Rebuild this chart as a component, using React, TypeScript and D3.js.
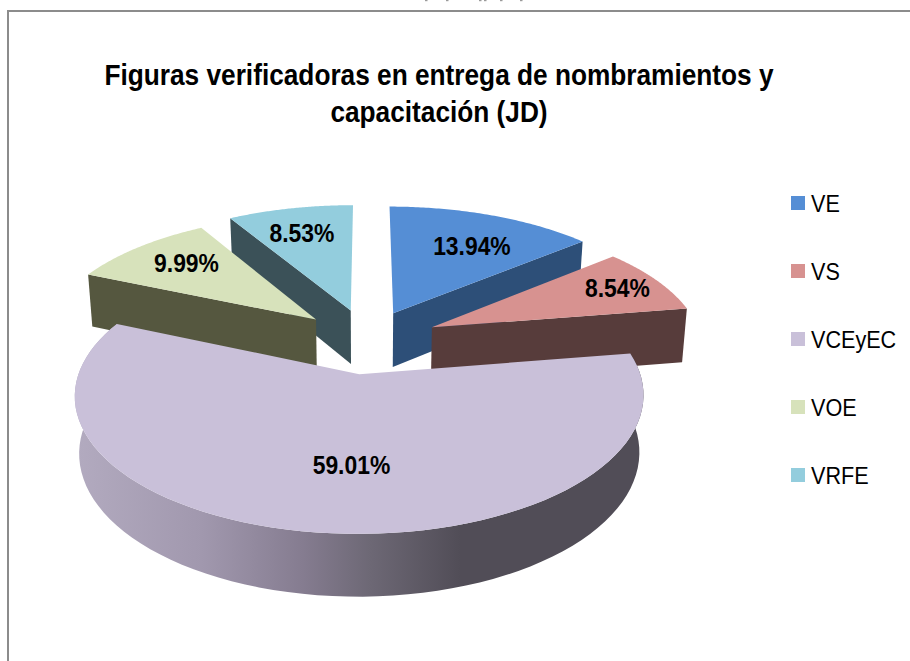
import React from "react";
import * as d3 from "d3";

const categories = ["VE", "VS", "VCEyEC", "VOE", "VRFE"];
const values = [13.94, 8.54, 59.01, 9.99, 8.53];
const titleLines = ["Figuras verificadoras en entrega de nombramientos y", "capacitación (JD)"];
const topColors = ["#558ed5", "#d79290", "#c9c0d9", "#d7e2bb", "#93cddd"];
const sideColors = ["#2d4f78", "#573c3b", "#000000", "#55573f", "#3b5158"];
const explode = [0.25, 0.26, 0.235, 0.255, 0.25];
const radiusScale = [1.05, 1.0, 1.004, 1.01, 1.04];
const sliceNudge: [number, number][] = [[-2.5, -3.5], [1, -3.5], [-0.5, 0], [-1.5, -4], [0, -4.5]];
const labelFrac = [0.62, 0.74, 0.6, 0.72, 0.68];
const labelNudge: [number, number][] = [[14.5, -3.5], [17, -4.5], [16, 2], [1.5, -4], [-6, -5.5]];
const cutTextFragments = [425, 446, 479, 484, 500, 520];

const W = 910, H = 661;
const CX = 368, CY = 344, RX = 270, RY = 125, PERSP = 0.15, DEPTH = 55, DEPTH_PERSP = 0.1, SHRINK = 0.985;

type P = [number, number];
const project = (X: number, Y: number, down = 0): P => {
  const w = 1 + PERSP * Y;
  const px = CX + (RX * X) / w;
  const py = CY - (RY * Y) / w;
  if (!down) return [px, py];
  return [CX + (px - CX) * SHRINK, py + DEPTH / (1 + DEPTH_PERSP * Y)];
};

const pieGen = d3.pie<number>().sort(null).value((d) => d);
const arcs = pieGen(values);

const slices = arcs.map((a, i) => {
  const mid = (a.startAngle + a.endAngle) / 2;
  const ox = explode[i] * Math.sin(mid);
  const oy = explode[i] * Math.cos(mid);
  const r = radiusScale[i];
  const at = (ang: number, f = 1, down = 0): P => {
    const [x, y] = project(ox + f * r * Math.sin(ang), oy + f * r * Math.cos(ang), down);
    return [x + sliceNudge[i][0], y + sliceNudge[i][1]];
  };
  const angles = d3.range(0, 81).map((k) => a.startAngle + ((a.endAngle - a.startAngle) * k) / 80);
  return { i, a, mid, at, angles };
});

const line = d3.line<P>();
const closed = (pts: P[]) => (line(pts) as string) + "Z";

const gradStops: [number, string][] = [
  [0, "#b2aabf"],
  [0.22, "#a198ae"],
  [0.4, "#857c90"],
  [0.52, "#6d6875"],
  [0.68, "#514d57"],
  [1, "#514d57"],
];

const drawOrder = [4, 3, 0, 1, 2];

export default function App() {
  return (
    <svg width={W} height={H} style={{ position: "absolute", left: 0, top: 0, background: "#fff" }}
      fontFamily="'Liberation Sans', Arial, sans-serif">
      <defs>
        <linearGradient id="wall" gradientUnits="userSpaceOnUse" x1={78} x2={640} y1={0} y2={0}>
          {gradStops.map(([o, c]) => <stop key={o} offset={o} stopColor={c} />)}
        </linearGradient>
      </defs>
      {cutTextFragments.map((x) => <rect key={x} x={x} y={0} width={2.5} height={1.2} fill="#9a9a9a" />)}
      <path d={`M8,${H}V11H${W}`} fill="none" stroke="#8c8c8c" strokeWidth={2} />
      {drawOrder.map((idx) => {
        const s = slices[idx];
        const apex = s.at(0, 0);
        const apexD = s.at(0, 0, 1);
        const top = closed([apex, ...s.angles.map((t) => s.at(t))]);
        let side: React.ReactNode = null;
        if (idx === 2) {
          const upper = s.angles.map((t) => s.at(t));
          const lower = s.angles.map((t) => s.at(t, 1, 1)).reverse();
          side = <path d={closed([...upper, ...lower])} fill="url(#wall)" />;
        } else {
          const edge = idx < 2 ? s.a.endAngle : s.a.startAngle;
          side = (
            <path d={closed([apex, s.at(edge), s.at(edge, 1, 1), apexD])} fill={sideColors[idx]} />
          );
        }
        return (
          <g key={categories[idx]}>
            {side}
            <path d={top} fill={topColors[idx]} />
          </g>
        );
      })}
      {slices.map((s) => {
        const [x, y] = s.at(s.mid, labelFrac[s.i]);
        return (
          <text key={s.i} transform={`translate(${x + labelNudge[s.i][0]},${y + labelNudge[s.i][1]}) scale(0.88,1)`}
            textAnchor="middle" dy="0.36em" fontSize={26} fontWeight="bold" fill="#000">
            {values[s.i].toFixed(2)}%
          </text>
        );
      })}
      {titleLines.map((t, i) => (
        <text key={t} transform={`translate(439,${85 + i * 37}) scale(0.905,1)`} textAnchor="middle"
          fontSize={29} fontWeight="bold" fill="#000">
          {t}
        </text>
      ))}
      {categories.map((c, i) => {
        const y = 203 + i * 68;
        return (
          <g key={c}>
            <rect x={791} y={y - 7} width={14} height={14} fill={topColors[i]} />
            <text transform={`translate(811,${y + 8.5}) scale(0.9,1)`} fontSize={24} fill="#000">{c}</text>
          </g>
        );
      })}
    </svg>
  );
}
